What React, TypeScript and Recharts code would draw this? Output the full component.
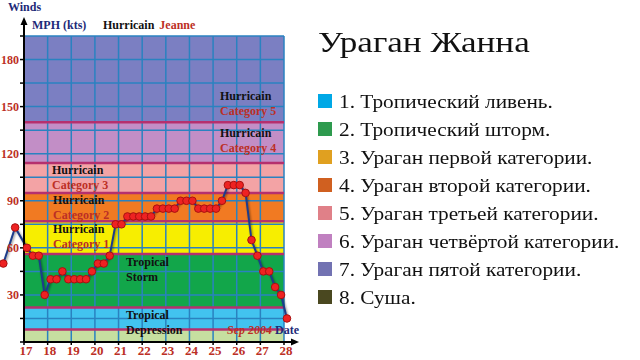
import React from 'react';
import { ComposedChart, Line, XAxis, YAxis, ReferenceArea, ReferenceLine } from 'recharts';

// days on the x axis (September 2004)
const days = [17, 18, 19, 20, 21, 22, 23, 24, 25, 26, 27, 28];
const windTicks = [0, 15, 30, 45, 60, 75, 90, 105, 120, 135, 150, 165, 180, 195];
const windLabels = [30, 60, 90, 120, 150, 180];

// observation times (day of month) and wind speeds
const times = [
  16.125, 16.625, 17.125, 17.375, 17.625, 17.875, 18.125, 18.375, 18.625, 18.875,
  19.125, 19.375, 19.625, 19.875, 20.125, 20.375, 20.625, 20.875, 21.125, 21.375,
  21.625, 21.875, 22.125, 22.375, 22.625, 22.875, 23.125, 23.375, 23.625, 23.875,
  24.125, 24.375, 24.625, 24.875, 25.125, 25.375, 25.625, 25.875, 26.125, 26.375,
  26.625, 26.875, 27.125, 27.375, 27.625, 27.875, 28.125,
];
const winds = [
  50, 73, 60, 55, 55, 30, 40, 40, 45, 40,
  40, 40, 40, 45, 50, 50, 55, 75, 75, 80,
  80, 80, 80, 80, 85, 85, 85, 85, 90, 90,
  90, 85, 85, 85, 85, 90, 100, 100, 100, 95,
  65, 55, 45, 45, 35, 30, 15,
];

// intensity bands: land, TD, TS, cat 1..5
const bandLow = [0, 8, 22, 56, 77, 95, 114, 140];
const bandHigh = [8, 22, 56, 77, 95, 114, 140, 195];
const bandColors = ['#c6dfa0', '#42c3ef', '#12a64a', '#f7ee00', '#f17a22', '#f3a3a5', '#c28ec6', '#7b7fc2'];
const boundaries = [8, 22, 56, 77, 95, 114, 140];

const legendItems = [
  '1. Тропический ливень.',
  '2. Тропический шторм.',
  '3. Ураган первой категории.',
  '4. Ураган второй категории.',
  '5. Ураган третьей категории.',
  '6. Ураган четвёртой категории.',
  '7. Ураган пятой категории.',
  '8. Суша.',
];
const legendColors = ['#00a8e6', '#2e9a4e', '#e0a020', '#d06020', '#e08088', '#c080c0', '#7272b2', '#4a4820'];

const bandTexts = [
  { top: ['Hurricain', 'Category 5'], left: 220, y: 89 },
  { top: ['Hurricain', 'Category 4'], left: 220, y: 126 },
  { top: ['Hurricain', 'Category 3'], left: 52, y: 163 },
  { top: ['Hurricain', 'Category 2'], left: 53, y: 193 },
  { top: ['Hurricain', 'Category 1'], left: 53, y: 222 },
  { top: ['Tropical', 'Storm'], left: 126, y: 255 },
  { top: ['Tropical', 'Depression'], left: 126, y: 308 },
];

const serif = "'Liberation Serif', 'DejaVu Serif', serif";
const red = '#bc2f25';
const navy = '#1e2a78';

const data = times.map((t, i) => ({ t, wind: winds[i] }));

const css = `
.recharts-line, .recharts-line *, .recharts-line-dots, .recharts-line-dots *, .recharts-dot { clip-path: none !important; }
.recharts-line-curve { filter: drop-shadow(1.5px 1.5px 1px rgba(0,0,0,0.45)); }
.recharts-yAxis .recharts-cartesian-axis-line { marker-start: url(#arrowUp); }
.recharts-xAxis .recharts-cartesian-axis-line { marker-end: url(#arrowRight); }
.chart-root, .chart-root text { font-family: 'Liberation Serif', 'DejaVu Serif', serif; }
`;

const App = () => {
  return (
    <div className="chart-root" style={{ position: 'absolute', left: 0, top: 0, width: 640, height: 360, background: '#fff', fontFamily: serif }}>
      <style>{css}</style>
      <svg width={0} height={0} style={{ position: 'absolute' }}>
        <defs>
          <marker id="arrowUp" markerUnits="userSpaceOnUse" markerWidth={24} markerHeight={12} viewBox="0 0 24 12" refX={0} refY={6} orient="auto-start-reverse" overflow="visible">
            <path d="M0 6H13" stroke="#000" strokeWidth={2} />
            <path d="M11 2.5L19 6L11 9.5Z" fill="#000" />
          </marker>
          <marker id="arrowRight" markerUnits="userSpaceOnUse" markerWidth={24} markerHeight={12} viewBox="0 0 24 12" refX={0} refY={6} orient="auto" overflow="visible">
            <path d="M0 6H9" stroke="#000" strokeWidth={2} />
            <path d="M7 2.5L15 6L7 9.5Z" fill="#000" />
          </marker>
        </defs>
      </svg>

      <ComposedChart width={640} height={360} data={data} margin={{ top: 36, right: 356, bottom: 0, left: 0 }}>
        <XAxis
          type="number"
          dataKey="t"
          domain={[17, 28]}
          allowDataOverflow
          ticks={days}
          interval={0}
          height={18}
          stroke="#000"
          axisLine={{ stroke: '#000', strokeWidth: 2 }}
          tickLine={{ stroke: '#000', strokeWidth: 1.5 }}
          tickSize={3}
          tickMargin={1}
          tick={{ fill: red, fontSize: 13, fontWeight: 'bold', fontFamily: serif, dx: 2 }}
        />
        <YAxis
          type="number"
          domain={[0, 195]}
          allowDataOverflow
          ticks={windTicks}
          interval={0}
          width={24}
          axisLine={{ stroke: '#000', strokeWidth: 2 }}
          tickLine={{ stroke: '#000', strokeWidth: 1.5 }}
          tickSize={4}
          tickMargin={1}
          tickFormatter={(v: number) => (windLabels.includes(v) ? String(v) : '')}
          tick={{ fill: red, fontSize: 12, fontWeight: 'bold', fontFamily: serif }}
        />
        {bandLow.map((lo, i) => (
          <ReferenceArea key={'b' + i} y1={lo} y2={bandHigh[i]} fill={bandColors[i]} fillOpacity={1} stroke="none" />
        ))}
        {windTicks.map((v) => (
          <ReferenceLine key={'h' + v} y={v} stroke="#2a82c0" strokeWidth={1.5} />
        ))}
        {days.map((d) => (
          <ReferenceLine key={'v' + d} x={d} stroke="#2a82c0" strokeWidth={1.5} />
        ))}
        {boundaries.map((v) => (
          <ReferenceLine key={'m' + v} y={v} stroke="#b5306e" strokeWidth={2.5} />
        ))}
        <Line
          type="linear"
          dataKey="wind"
          stroke="#1c3c8c"
          strokeWidth={2}
          dot={{ r: 3.8, fill: '#ee2222', stroke: '#a81010', strokeWidth: 1, clipDot: false }}
          isAnimationActive={false}
        />
      </ComposedChart>

      {/* axis captions and title */}
      <div style={{ position: 'absolute', left: 8, top: 1, fontSize: 12, lineHeight: '12px', fontWeight: 'bold', color: navy }}>Winds</div>
      <div style={{ position: 'absolute', left: 32, top: 19, fontSize: 12, lineHeight: '12px', fontWeight: 'bold', color: navy }}>MPH (kts)</div>
      <div style={{ position: 'absolute', left: 103, top: 19, fontSize: 12, lineHeight: '12px', fontWeight: 'bold', color: '#111', whiteSpace: 'nowrap' }}>
        Hurricain <span style={{ color: red, marginLeft: 2 }}>Jeanne</span>
      </div>

      {/* band labels */}
      {bandTexts.map((b, i) => (
        <div key={i} style={{ position: 'absolute', left: b.left, top: b.y, fontSize: 12, lineHeight: '14.5px', fontWeight: 'bold', whiteSpace: 'nowrap' }}>
          <div style={{ color: '#111' }}>{b.top[0]}</div>
          <div style={{ color: b.top[0] === 'Hurricain' ? red : '#111' }}>{b.top[1]}</div>
        </div>
      ))}

      <div style={{ position: 'absolute', left: 227, top: 324, fontSize: 12, lineHeight: '12px', fontWeight: 'bold', whiteSpace: 'nowrap' }}>
        <span style={{ color: red, fontStyle: 'italic' }}>Sep 2004</span>
        <span style={{ color: navy, marginLeft: 3 }}>Date</span>
      </div>

      {/* legend */}
      <div style={{ position: 'absolute', left: 318, top: 26.5, fontSize: 30, lineHeight: '30px', color: '#111', whiteSpace: 'nowrap', transform: 'scaleX(1.17)', transformOrigin: 'left center' }}>Ураган Жанна</div>
      {legendItems.map((label, i) => (
        <div key={label} style={{ position: 'absolute', left: 318, top: 87 + i * 28, height: 28, display: 'flex', alignItems: 'center', whiteSpace: 'nowrap' }}>
          <div style={{ width: 14, height: 14, background: legendColors[i], marginRight: 7 }} />
          <div style={{ fontSize: 19, lineHeight: '19px', color: '#111', transform: 'scaleX(1.12)', transformOrigin: 'left center' }}>{label}</div>
        </div>
      ))}
    </div>
  );
};

export default App;
